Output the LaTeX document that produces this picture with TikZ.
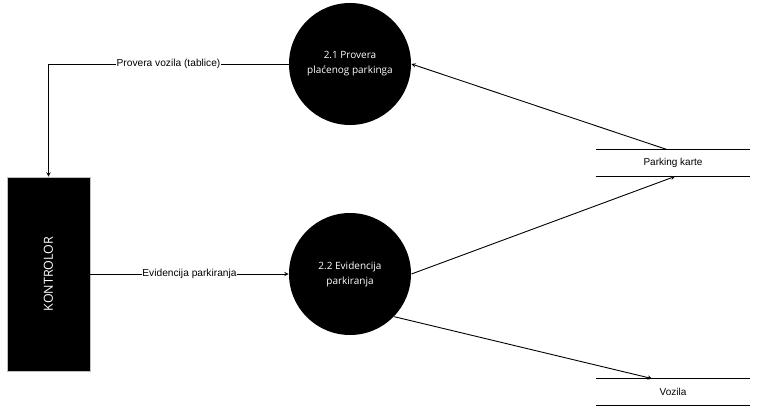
\documentclass[tikz,border=0pt]{standalone}
\usepackage{fontspec}
\setmainfont{Liberation Sans}
\newfontfamily\procfont{Open Sans}
\usepgflibrary{arrows}
\usetikzlibrary{calc}
\begin{document}
\begin{tikzpicture}[x=1pt,y=-1pt,>=stealth,line width=.9pt,
proces/.style={circle,fill=black,text=white,minimum size=122pt,inner sep=0pt,align=center,font=\procfont\fontsize{10}{15}\selectfont},
entitet/.style={rectangle,fill=black,draw=black!25,text=white,minimum width=83pt,minimum height=194pt,inner sep=0pt},
skladiste/.style={rectangle,minimum width=154pt,minimum height=26pt,inner sep=0pt,font=\fontsize{10}{12}\selectfont},
tok/.style={fill=white,inner sep=.5pt,font=\fontsize{10.2}{12}\selectfont}
]
\useasboundingbox (0,0) rectangle (766,420);

\node[proces](p21) at (350,64){2.1 Provera\\pla\'cenog parkinga};
\node[proces](p22) at (350,274){2.2 Evidencija\\parkiranja};

\node[entitet](kontrolor) at (48.5,274){\rotatebox{90}{\procfont\fontsize{12.5}{14}\selectfont KONTROLOR}};

\node[skladiste](karte) at (673,163){Parking karte};
\node[skladiste](vozila) at (673,392){Vozila};
\draw (karte.north west)--(karte.north east);
\draw (karte.south west)--(karte.south east);
\draw (vozila.north west)--(vozila.north east);
\draw (vozila.south west)--(vozila.south east);

\begin{scope}[->]
\draw (p21.west) -| (kontrolor.north) node[tok, pos=.25]{Provera vozila (tablice)};
\draw (kontrolor.east) -- (p22.west) node[tok, pos=.5]{Evidencija parkiranja};
\draw ([xshift=-6pt]karte.north) -- (p21.east);
\draw (p22.east) -- ([xshift=2pt]karte.south);
\draw (p22.-44) -- ([xshift=-21pt]vozila.north);
\end{scope}

\end{tikzpicture}
\end{document}
